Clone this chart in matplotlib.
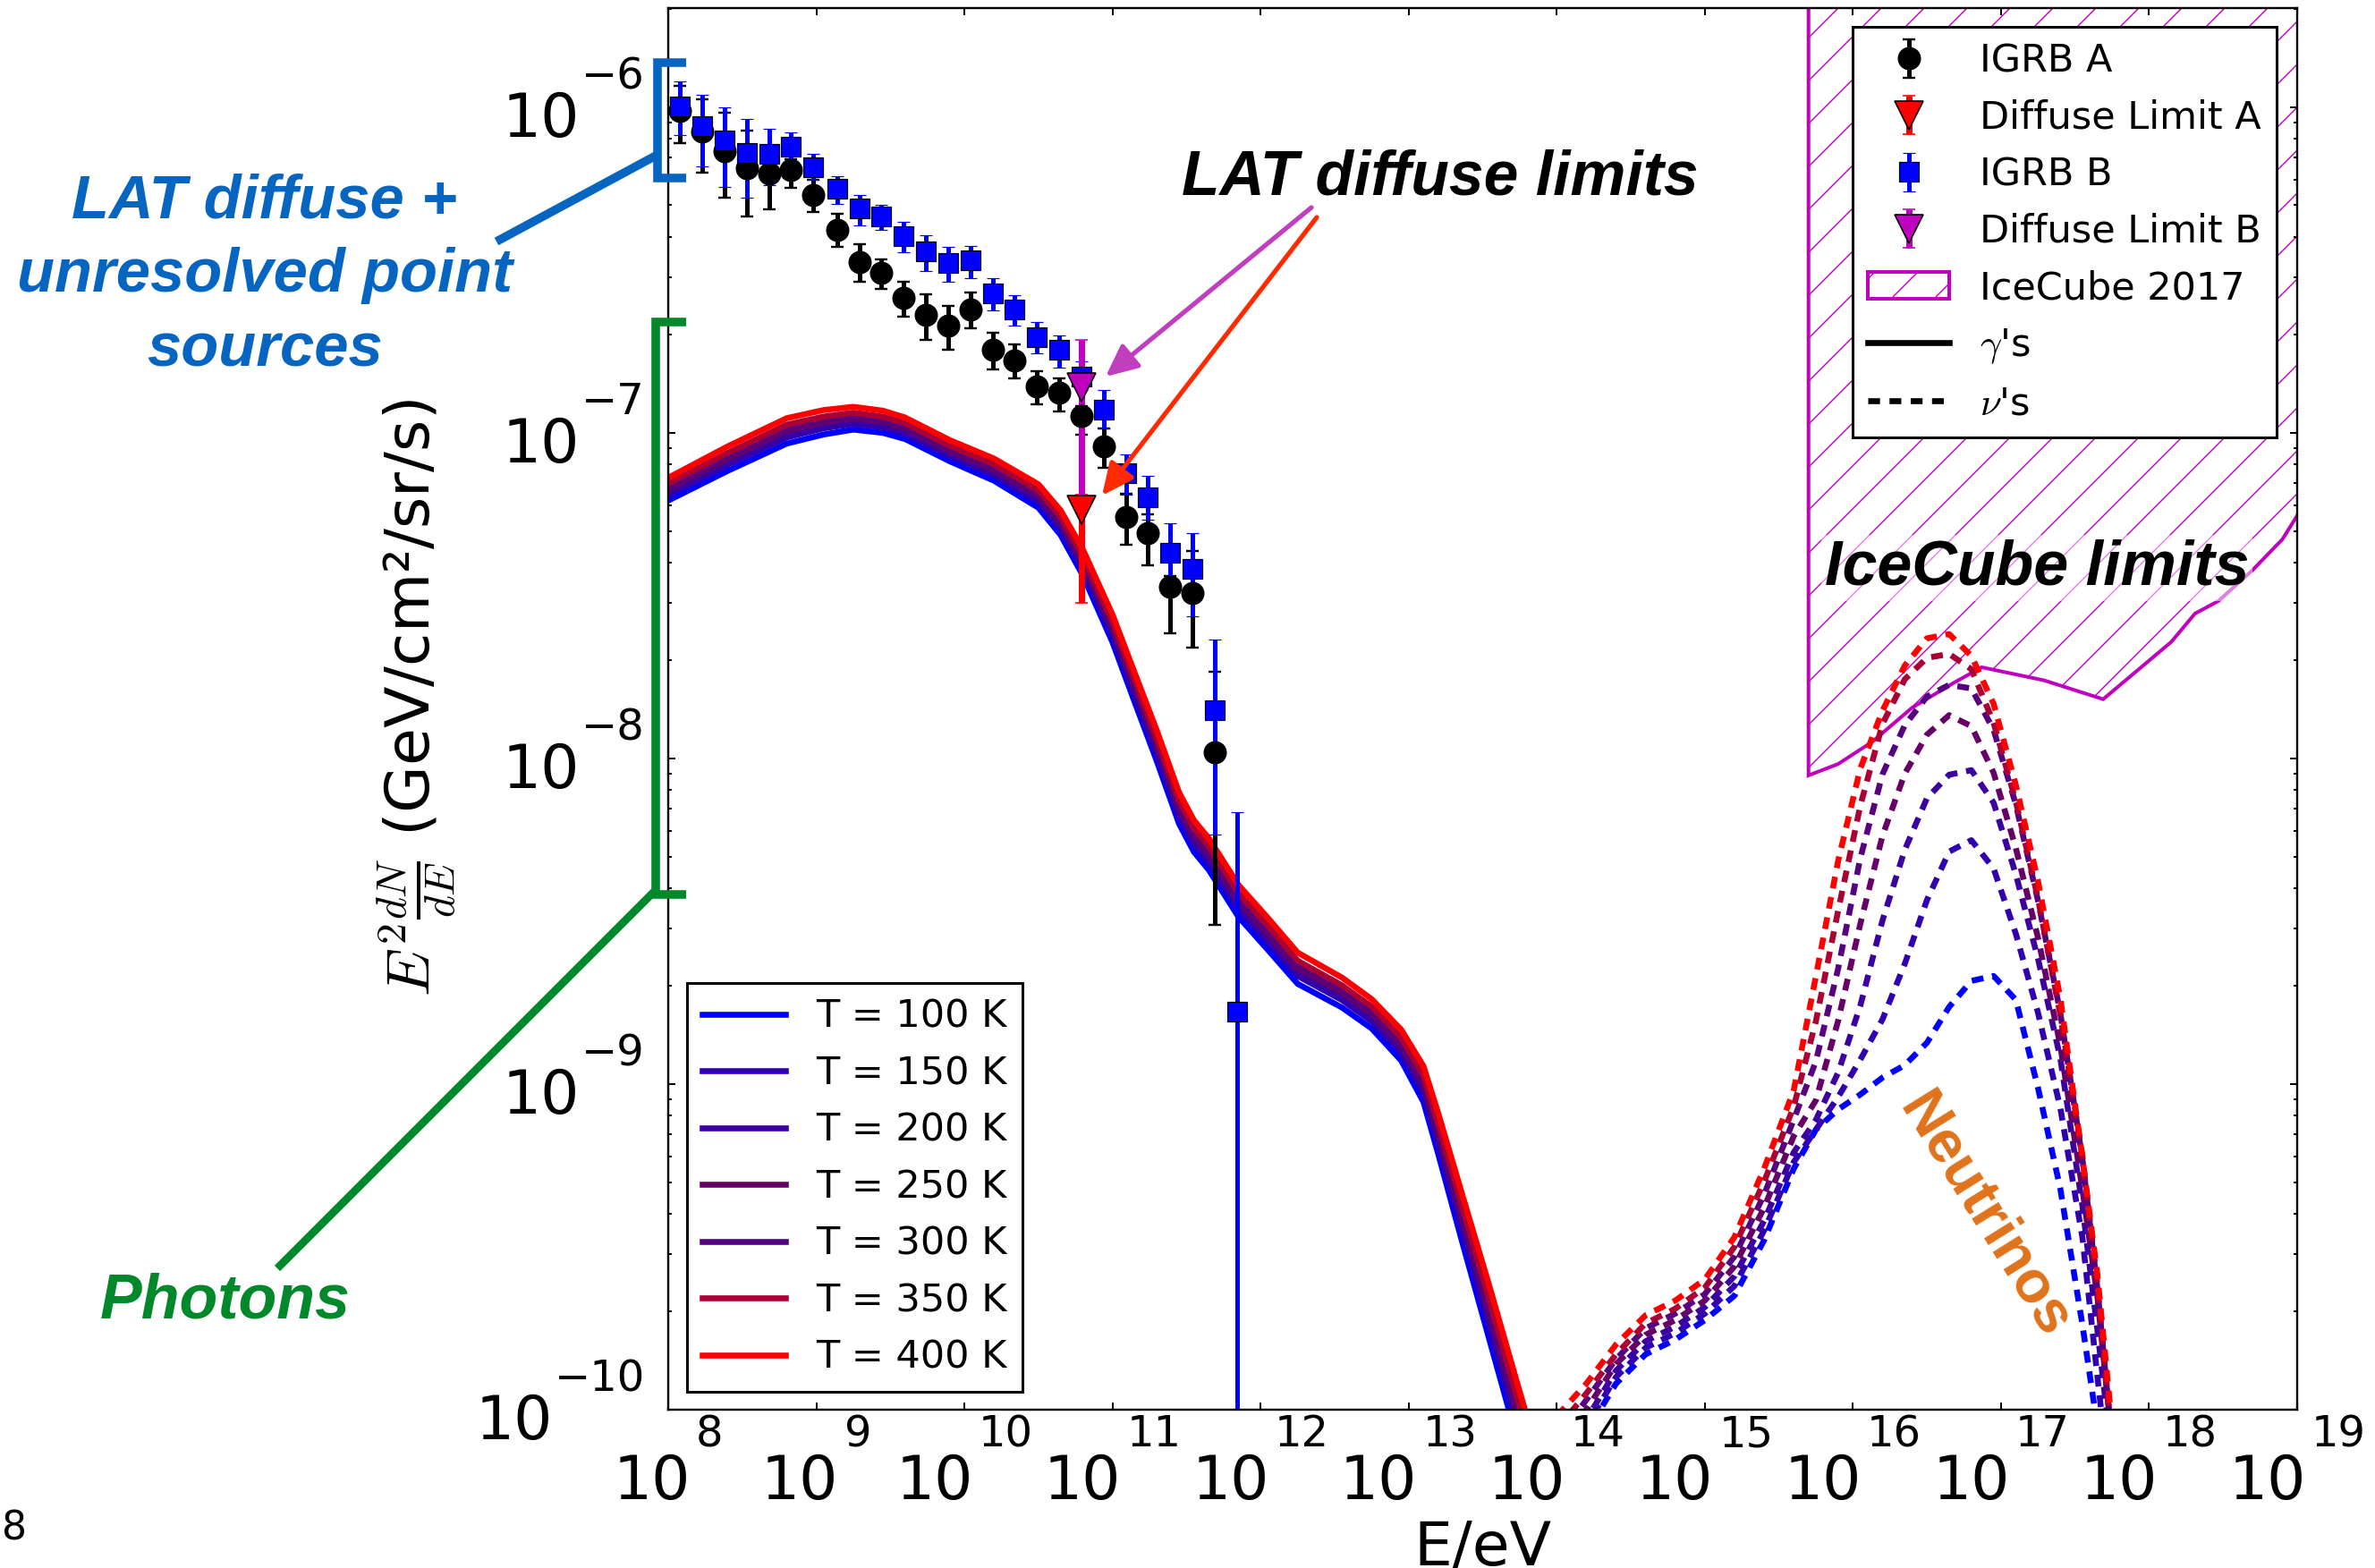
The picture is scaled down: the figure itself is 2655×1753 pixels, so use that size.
import numpy as np
import matplotlib
matplotlib.use('Agg')
import matplotlib.pyplot as plt
from matplotlib.lines import Line2D
from matplotlib.patches import Polygon
from matplotlib.ticker import NullLocator, FixedLocator

W, H, DPI = 2655, 1753, 144

# ---------------------------------------------------------------
# data (energies in eV, fluxes in GeV/cm^2/sr/s)
# ---------------------------------------------------------------
IGRB_E = [1.20e8, 1.70e8, 2.40e8, 3.39e8, 4.79e8, 6.76e8, 9.55e8, 1.38e9,
          1.95e9, 2.75e9, 3.89e9, 5.50e9, 7.76e9, 1.10e10, 1.55e10, 2.19e10,
          3.09e10, 4.37e10, 6.17e10, 8.71e10, 1.23e11, 1.74e11, 2.45e11,
          3.47e11, 4.90e11, 6.92e11]

IGRB_A = [9.72e-7, 8.40e-7, 7.35e-7, 6.52e-7, 6.24e-7, 6.43e-7, 5.37e-7,
          4.21e-7, 3.35e-7, 3.10e-7, 2.60e-7, 2.31e-7, 2.14e-7, 2.40e-7,
          1.80e-7, 1.67e-7, 1.385e-7, 1.325e-7, 1.13e-7, 9.10e-8, 5.52e-8,
          4.92e-8, 3.37e-8, 3.22e-8, 1.046e-8]
IGRB_A_HI = [1.16e-6, 1.06e-6, 9.64e-7, 8.49e-7, 6.85e-7, 6.93e-7, 5.99e-7,
             4.71e-7, 3.80e-7, 3.41e-7, 2.91e-7, 2.67e-7, 2.46e-7, 2.70e-7,
             2.03e-7, 1.87e-7, 1.55e-7, 1.47e-7, 1.21e-7, 1.03e-7, 6.50e-8,
             5.62e-8, 3.63e-8, 4.34e-8, 1.85e-8]
IGRB_A_LO = [7.76e-7, 6.31e-7, 5.29e-7, 4.63e-7, 4.86e-7, 5.66e-7, 4.77e-7,
             3.73e-7, 2.91e-7, 2.77e-7, 2.28e-7, 1.93e-7, 1.80e-7, 2.10e-7,
             1.57e-7, 1.47e-7, 1.22e-7, 1.16e-7, 9.86e-8, 7.82e-8, 4.54e-8,
             3.92e-8, 2.42e-8, 2.19e-8, 3.08e-9]

IGRB_B = [1.008e-6, 8.76e-7, 7.91e-7, 7.26e-7, 7.18e-7, 7.57e-7, 6.56e-7,
          5.63e-7, 4.88e-7, 4.63e-7, 4.03e-7, 3.61e-7, 3.32e-7, 3.39e-7,
          2.68e-7, 2.40e-7, 1.97e-7, 1.80e-7, 1.49e-7, 1.18e-7, 7.5e-8,
          6.32e-8, 4.27e-8, 3.83e-8, 1.41e-8, 1.67e-9]
IGRB_B_HI = [1.20e-6, 1.09e-6, 1.00e-6, 9.21e-7, 8.59e-7, 8.37e-7, 7.19e-7,
             6.14e-7, 5.38e-7, 5.02e-7, 4.45e-7, 4.05e-7, 3.73e-7, 3.75e-7,
             2.98e-7, 2.65e-7, 2.19e-7, 1.99e-7, 1.66e-7, 1.35e-7, 8.59e-8,
             7.38e-8, 5.28e-8, 4.92e-8, 2.32e-8, 6.84e-9]
IGRB_B_LO = [8.22e-7, 6.59e-7, 5.69e-7, 5.28e-7, 5.77e-7, 6.84e-7, 5.99e-7,
             5.05e-7, 4.34e-7, 4.20e-7, 3.59e-7, 3.14e-7, 2.91e-7, 2.98e-7,
             2.38e-7, 2.14e-7, 1.76e-7, 1.59e-7, 1.35e-7, 1.03e-7, 6.46e-8,
             5.42e-8, 3.24e-8, 2.73e-8, 5.83e-9, 1.0e-11]

LIM_E = 6.17e10
LIM_A, LIM_A_LO, LIM_A_HI = 5.8e-8, 3.01e-8, 6.47e-8
LIM_B, LIM_B_LO, LIM_B_HI = 1.38e-7, 6.4e-8, 1.93e-7

TEMPS = [100, 150, 200, 250, 300, 350, 400]
T_COLORS = ['#0000ff', '#3000b0', '#3a00a0', '#660066', '#550080',
            '#aa0033', '#ff0000']

# photon spectra, log10(E/eV) and log10(flux)
GAMMA_LOGE = [8.0, 8.4, 8.8, 9.05, 9.25, 9.45, 9.6, 9.9, 10.2, 10.5, 10.65,
              10.8, 11.0, 11.15, 11.3, 11.45, 11.55, 11.65, 11.85, 12.05,
              12.25, 12.55, 12.75, 12.95, 13.1, 13.2, 13.35, 13.55, 13.75,
              13.85]
GAMMA_100 = [-7.208, -7.117, -7.033, -7.005, -6.990, -7.000, -7.019, -7.087,
             -7.147, -7.230, -7.314, -7.438, -7.643, -7.827, -8.009, -8.201,
             -8.287, -8.342, -8.486, -8.588, -8.692, -8.765, -8.829, -8.928,
             -9.055, -9.215, -9.466, -9.793, -10.120, -10.280]
GAMMA_150 = [-7.191, -7.098, -7.014, -6.986, -6.973, -6.983, -7.003, -7.071,
             -7.130, -7.212, -7.295, -7.418, -7.622, -7.805, -7.986, -8.177,
             -8.263, -8.318, -8.462, -8.564, -8.668, -8.742, -8.807, -8.904,
             -9.028, -9.184, -9.430, -9.752, -10.076, -10.235]
GAMMA_200 = [-7.181, -7.089, -7.003, -6.977, -6.963, -6.974, -6.994, -7.062,
             -7.121, -7.203, -7.285, -7.408, -7.611, -7.793, -7.973, -8.165,
             -8.250, -8.305, -8.449, -8.551, -8.656, -8.730, -8.795, -8.892,
             -9.013, -9.168, -9.411, -9.730, -10.054, -10.212]
GAMMA_250 = [-7.172, -7.079, -6.993, -6.967, -6.954, -6.965, -6.985, -7.054,
             -7.112, -7.193, -7.275, -7.397, -7.600, -7.781, -7.961, -8.152,
             -8.238, -8.293, -8.436, -8.538, -8.643, -8.718, -8.783, -8.880,
             -8.999, -9.151, -9.392, -9.709, -10.031, -10.188]
GAMMA_300 = [-7.165, -7.071, -6.985, -6.959, -6.947, -6.959, -6.979, -7.047,
             -7.106, -7.186, -7.268, -7.389, -7.591, -7.772, -7.952, -8.142,
             -8.228, -8.283, -8.426, -8.528, -8.633, -8.709, -8.774, -8.870,
             -8.988, -9.139, -9.378, -9.692, -10.013, -10.170]
GAMMA_350 = [-7.156, -7.062, -6.975, -6.950, -6.938, -6.950, -6.970, -7.039,
             -7.097, -7.177, -7.258, -7.379, -7.580, -7.760, -7.939, -8.130,
             -8.215, -8.270, -8.413, -8.515, -8.621, -8.697, -8.762, -8.858,
             -8.974, -9.123, -9.359, -9.671, -9.991, -10.147]
GAMMA_400 = [-7.138, -7.042, -6.955, -6.930, -6.920, -6.932, -6.953, -7.022,
             -7.079, -7.158, -7.238, -7.358, -7.558, -7.737, -7.915, -8.105,
             -8.190, -8.245, -8.388, -8.490, -8.596, -8.673, -8.739, -8.833,
             -8.945, -9.090, -9.321, -9.628, -9.945, -10.100]

# neutrino spectra
NU_LOGE = [14.0, 14.2, 14.4, 14.6, 14.8, 15.0, 15.2, 15.4, 15.6, 15.75, 15.9,
           16.05, 16.2, 16.35, 16.5, 16.65, 16.8, 16.95, 17.1, 17.25, 17.4,
           17.55, 17.65, 17.75]
NU_100 = [-10.20, -10.07, -9.92, -9.83, -9.785, -9.725, -9.65, -9.48, -9.26,
          -9.14, -9.078, -9.032, -8.980, -8.942, -8.873, -8.763, -8.683,
          -8.668, -8.741, -9.012, -9.320, -9.740, -10.05, -10.40]
NU_150 = [-10.17, -10.05, -9.90, -9.81, -9.765, -9.705, -9.62, -9.45, -9.24,
          -9.14, -9.04, -8.925, -8.801, -8.631, -8.435, -8.286, -8.251,
          -8.338, -8.538, -8.781, -9.072, -9.472, -9.894, -10.30]
NU_200 = [-10.15, -10.03, -9.88, -9.79, -9.745, -9.685, -9.59, -9.42, -9.21,
          -9.11, -8.965, -8.759, -8.497, -8.281, -8.122, -8.050, -8.036,
          -8.136, -8.356, -8.615, -8.919, -9.375, -9.752, -10.15]
NU_250 = [-10.12, -10.00, -9.86, -9.77, -9.725, -9.665, -9.56, -9.38, -9.16,
          -9.05, -8.806, -8.508, -8.237, -8.047, -7.927, -7.867, -7.901,
          -8.044, -8.275, -8.551, -8.880, -9.324, -9.649, -10.10]
NU_300 = [-10.09, -9.97, -9.845, -9.75, -9.705, -9.645, -9.53, -9.34, -9.11,
          -8.93, -8.646, -8.306, -8.048, -7.898, -7.810, -7.774, -7.785,
          -7.912, -8.141, -8.437, -8.780, -9.231, -9.624, -10.10]
NU_350 = [-10.06, -9.95, -9.83, -9.735, -9.69, -9.625, -9.50, -9.30, -9.07,
          -8.807, -8.468, -8.145, -7.894, -7.757, -7.691, -7.679, -7.726,
          -7.890, -8.132, -8.431, -8.786, -9.222, -9.612, -10.10]
NU_400 = [-10.02, -9.92, -9.80, -9.71, -9.665, -9.60, -9.47, -9.26, -9.02,
          -8.669, -8.315, -8.031, -7.853, -7.715, -7.631, -7.618, -7.685,
          -7.832, -8.081, -8.377, -8.735, -9.228, -9.581, -10.05]

# IceCube 2017 limit, lower edge of the excluded band
ICECUBE_LOGE = [15.70, 15.90, 16.13, 16.40, 16.68, 16.87, 17.29, 17.69,
                18.15, 18.31, 18.47, 18.70, 18.90, 19.01, 19.30]
ICECUBE_LOGF = [-8.052, -8.017, -7.949, -7.844, -7.768, -7.720, -7.760,
                -7.818, -7.642, -7.555, -7.516, -7.421, -7.327, -7.247, -7.05]

X_DECADES = list(range(8, 20))
Y_DECADES = list(range(-10, -5))

GAMMA = [GAMMA_100, GAMMA_150, GAMMA_200, GAMMA_250, GAMMA_300, GAMMA_350,
         GAMMA_400]
NU = [NU_100, NU_150, NU_200, NU_250, NU_300, NU_350, NU_400]


def fpx(x, y):
    """pixel position in the 2655x1753 canvas -> figure fraction"""
    return x / W, 1 - y / H


def adv(s, fs):
    """rough DejaVu advance width (pt) of a digit/minus string"""
    return fs * sum(0.838 if c == '\u2212' else 0.636 for c in s)


plt.rcParams['hatch.color'] = 'm'
plt.rcParams['hatch.linewidth'] = 0.7

fig = plt.figure(figsize=(W / DPI, H / DPI), dpi=DPI)
ax = fig.add_axes([747 / W, 1 - 1576 / H, 1821 / W, 1567.5 / H])

# --- model spectra
photon_lines = []
for T, col, g in zip(TEMPS, T_COLORS, GAMMA):
    ln, = ax.plot(10 ** np.array(GAMMA_LOGE), 10 ** np.array(g), color=col,
                  lw=3.3, label=f'T = {T} K')
    photon_lines.append(ln)
for col, nu in zip(T_COLORS, NU):
    ax.plot(10 ** np.array(NU_LOGE), 10 ** np.array(nu), color=col, lw=3.3,
            dashes=(2.0, 1.5))

# --- IceCube excluded region
ice_x = 10 ** np.array(ICECUBE_LOGE)
ice_y = 10 ** np.array(ICECUBE_LOGF)
verts = list(zip(ice_x, ice_y)) + [(ice_x[-1], 1e-3), (ice_x[0], 1e-3)]
ice = Polygon(verts, closed=True, facecolor='none', edgecolor='m', lw=2.0,
              hatch='/', label='IceCube 2017')
ax.add_patch(ice)

# --- data points
a = np.array(IGRB_A)
b = np.array(IGRB_B)
ebar = dict(elinewidth=2.5, capsize=3.3, capthick=1.2)
h_a = ax.errorbar(IGRB_E[:len(a)], a,
                  yerr=[a - np.array(IGRB_A_LO), np.array(IGRB_A_HI) - a],
                  fmt='o', color='k', ms=12, mec='k', label='IGRB A', **ebar)
h_la = ax.errorbar([LIM_E], [LIM_A], yerr=[[LIM_A - LIM_A_LO], [LIM_A_HI - LIM_A]],
                   fmt='v', color='r', ms=16, mec='k', mew=0.8,
                   elinewidth=3.5, capsize=3.3, capthick=1.2,
                   label='Diffuse Limit A')
h_b = ax.errorbar(IGRB_E, b,
                  yerr=[b - np.array(IGRB_B_LO), np.array(IGRB_B_HI) - b],
                  fmt='s', color='b', ms=11, mec='k', mew=0.6, label='IGRB B',
                  **ebar)
h_lb = ax.errorbar([LIM_E], [LIM_B], yerr=[[LIM_B - LIM_B_LO], [LIM_B_HI - LIM_B]],
                   fmt='v', color='m', ms=16, mec='k', mew=0.8,
                   elinewidth=3.5, capsize=3.3, capthick=1.2,
                   label='Diffuse Limit B')

# --- axes
ax.set_xscale('log')
ax.set_yscale('log')
ax.set_xlim(1e8, 1e19)
ax.set_ylim(1e-10, 10 ** -5.694)
ax.xaxis.set_major_locator(FixedLocator([10.0 ** n for n in X_DECADES]))
ax.xaxis.set_minor_locator(NullLocator())
ax.tick_params(which='both', direction='in', top=True, right=True, width=1,
               labelbottom=False, labelleft=False)
ax.tick_params(which='major', length=4)
ax.tick_params(which='minor', length=2)
for sp in ax.spines.values():
    sp.set_linewidth(1.2)

# old-style "10" + raised exponent tick labels
W10 = adv('10', 34)
for n in X_DECADES:
    s = str(n)
    x0 = -(W10 + 3 + adv(s, 24)) / 2
    ax.annotate('10', xy=(10.0 ** n, 0), xycoords=('data', 'axes fraction'),
                xytext=(x0, -49.9), textcoords='offset points', ha='left',
                va='baseline', fontsize=34, annotation_clip=False)
    ax.annotate(s, xy=(10.0 ** n, 0), xycoords=('data', 'axes fraction'),
                xytext=(x0 + W10 + 3, -20.7), textcoords='offset points',
                ha='left', va='baseline', fontsize=24, annotation_clip=False)
for n in Y_DECADES:
    s = '\u2212' + str(-n)
    ax.annotate(s, xy=(0, 10.0 ** n), xycoords=('axes fraction', 'data'),
                xytext=(-13, 10.3), textcoords='offset points', ha='right',
                va='baseline', fontsize=24, annotation_clip=False)
    ax.annotate('10', xy=(0, 10.0 ** n), xycoords=('axes fraction', 'data'),
                xytext=(-13 - adv(s, 24) - 1, -16.4),
                textcoords='offset points', ha='right', va='baseline',
                fontsize=34, annotation_clip=False)

ax.set_xlabel('E/eV', fontsize=34)
ax.xaxis.set_label_coords(0.5, -0.078)
ax.set_ylabel('$E^2\\frac{dN}{dE}$ (GeV/cm²/sr/s)', fontsize=34,
              math_fontfamily='cm')
ax.yaxis.set_label_coords(-0.1285, 0.508)

# --- legends
leg_kw = dict(fontsize=21.5, fancybox=False, edgecolor='k', framealpha=1,
              borderaxespad=0, borderpad=0.4, labelspacing=0.5,
              handletextpad=0.8)
leg1 = ax.legend(handles=photon_lines, loc='lower left',
                 bbox_to_anchor=(0.0115, 0.0128), handlelength=2.15, **leg_kw)
leg1.get_frame().set_linewidth(1.5)
ax.add_artist(leg1)

gam = Line2D([], [], color='k', lw=3.3, label="$\\gamma$'s")
nus = Line2D([], [], color='k', lw=3.3, dashes=(2.0, 1.6), label="$\\nu$'s")
leg2 = ax.legend(handles=[h_a, h_la, h_b, h_lb, ice, gam, nus],
                 loc='upper right', bbox_to_anchor=(0.9874, 0.9863),
                 handlelength=2.1, numpoints=1, **leg_kw)
leg2.get_frame().set_linewidth(1.5)
for t in leg2.get_texts():
    t.set_math_fontfamily('cm')

# --- annotations
blue_c, green_c = '#0565c0', '#00882b'
bold_it = dict(family='Liberation Sans', weight='bold', style='italic')


def fig_line(pts, color, lw):
    xs, ys = zip(*[fpx(x, y) for x, y in pts])
    fig.add_artist(Line2D(xs, ys, transform=fig.transFigure, color=color,
                          lw=lw, solid_joinstyle='miter',
                          solid_capstyle='butt'))


fig_line([(767, 70), (735, 70), (735, 199), (767, 199)], blue_c, 4.8)
fig_line([(735, 173), (555, 270)], blue_c, 4.8)
fig_line([(767, 360), (733, 360), (733, 1000), (767, 1000)], green_c, 4.8)
fig_line([(733, 995), (310, 1418)], green_c, 4.4)

fig.text(*fpx(296, 308), 'LAT diffuse +\nunresolved point\nsources',
         color=blue_c, fontsize=34.4, ha='center', va='center',
         linespacing=1.38, **bold_it)
fig.text(*fpx(252, 1456), 'Photons', color=green_c, fontsize=35,
         ha='center', va='center', **bold_it)
fig.text(*fpx(1610, 200), 'LAT diffuse limits', color='k', fontsize=34.8,
         ha='center', va='center', **bold_it)
fig.text(*fpx(2277, 635), 'IceCube limits', color='k', fontsize=35,
         ha='center', va='center',
         bbox=dict(fc='white', ec='none', alpha=0.5, pad=2), **bold_it)
fig.text(*fpx(2218, 1359), 'Neutrinos', color='#e0731c', fontsize=33,
         ha='center', va='center', rotation=-58, rotation_mode='anchor',
         family='Liberation Sans', weight='bold')
fig.text(*fpx(2, 1709), '8', fontsize=22, ha='left', va='center')

arrow_kw = dict(arrowstyle='-|>,head_length=0.75,head_width=0.35',
                mutation_scale=20, lw=2.6, shrinkA=0, shrinkB=0)
ax.annotate('', xy=fpx(1236, 421), xycoords='figure fraction',
            xytext=fpx(1466, 232), textcoords='figure fraction',
            arrowprops=dict(color='#bf3fbf', **arrow_kw))
ax.annotate('', xy=fpx(1232, 554), xycoords='figure fraction',
            xytext=fpx(1472, 243), textcoords='figure fraction',
            arrowprops=dict(color='#ff2a00', **arrow_kw))

fig.savefig('out.png', dpi=DPI)
